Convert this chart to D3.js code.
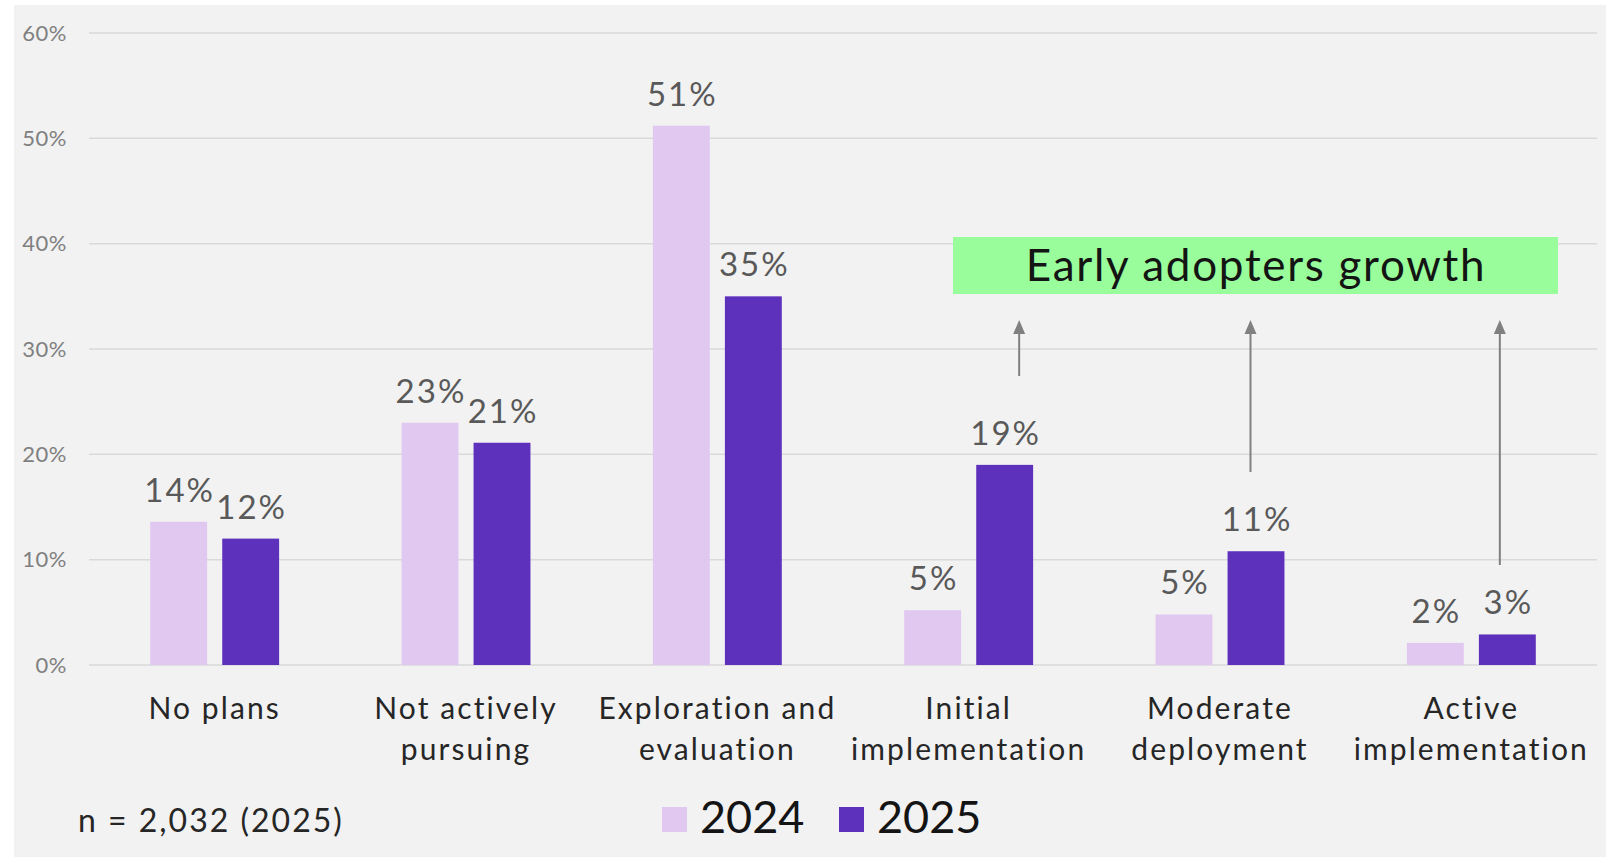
<!DOCTYPE html>
<html>
<head>
<meta charset="utf-8">
<script src="https://cdn.jsdelivr.net/npm/d3@7/dist/d3.min.js"></script>
<style>
  html, body { margin: 0; padding: 0; background: #ffffff; }
  svg { display: block; font-family: Lato, "Open Sans", sans-serif; }
</style>
</head>
<body>
<svg id="chart" width="1616" height="863"></svg>
<script>
// ---- data ----
const categories = ["No plans", "Not actively pursuing", "Exploration and evaluation",
                    "Initial implementation", "Moderate deployment", "Active implementation"];
const categoryLines = [["No plans"], ["Not actively", "pursuing"], ["Exploration and", "evaluation"],
                       ["Initial", "implementation"], ["Moderate", "deployment"], ["Active", "implementation"]];
const seriesNames = ["2024", "2025"];
const values2024 = [13.6, 23.0, 51.2, 5.2, 4.8, 2.1];
const values2025 = [12.0, 21.1, 35.0, 19.0, 10.8, 2.9];
const yTicks = [0, 10, 20, 30, 40, 50, 60];
const annotationText = "Early adopters growth";
const annotatedCategories = ["Initial implementation", "Moderate deployment", "Active implementation"];
const noteText = "n = 2,032 (2025)";

const colors = { "2024": "#e1c8f1", "2025": "#5e31bd" };
const seriesValues = { "2024": values2024, "2025": values2025 };

const svg = d3.select("#chart");

// panel background
svg.append("rect").attr("x", 14).attr("y", 5).attr("width", 1592).attr("height", 852).attr("fill", "#f2f2f2");

const x0 = d3.scaleBand().domain(categories).range([89, 1597]).paddingInner(0).paddingOuter(0);
const x1 = d3.scaleBand().domain(seriesNames).range([0, x0.bandwidth()]).paddingInner(0.21).paddingOuter(0.85);
const y = d3.scaleLinear().domain([0, 60]).range([665, 33]);

// gridlines
svg.append("g").selectAll("line").data(yTicks).join("line")
  .attr("x1", 89).attr("x2", 1597)
  .attr("y1", d => y(d)).attr("y2", d => y(d))
  .attr("stroke", "#d9d9d9").attr("stroke-width", 1.5);

// y axis labels
const yAxis = d3.axisLeft(y).tickValues(yTicks).tickFormat(d => d + "%").tickSize(0).tickPadding(0);
const gy = svg.append("g").attr("transform", "translate(67,0)").call(yAxis);
gy.select(".domain").remove();
gy.selectAll("text").attr("font-size", 22).attr("fill", "#808080")
  .attr("font-family", "Lato, sans-serif").attr("letter-spacing", "0.5px");

// bars
const rows = categories.map((c, i) => ({ cat: c, items: seriesNames.map(s => ({ s, v: seriesValues[s][i] })) }));
const groups = svg.append("g").selectAll("g").data(rows).join("g")
  .attr("transform", d => `translate(${x0(d.cat)},0)`);
groups.selectAll("rect").data(d => d.items).join("rect")
  .attr("x", d => x1(d.s)).attr("width", x1.bandwidth())
  .attr("y", d => y(d.v)).attr("height", d => y(0) - y(d.v))
  .attr("fill", d => colors[d.s]);
groups.selectAll("text").data(d => d.items).join("text")
  .attr("x", d => x1(d.s) + x1.bandwidth() / 2 + 1)
  .attr("y", d => y(d.v) - 20)
  .attr("text-anchor", "middle")
  .attr("font-size", 33).attr("fill", "#595959").attr("letter-spacing", "2px")
  .text(d => Math.round(d.v) + "%");

// category labels
const cl = svg.append("g").selectAll("text").data(categories).join("text")
  .attr("x", d => x0(d) + x0.bandwidth() / 2)
  .attr("y", 719)
  .attr("text-anchor", "middle")
  .attr("font-size", 30).attr("fill", "#262626").attr("letter-spacing", "2.1px");
cl.each(function(d, i) {
  const t = d3.select(this);
  categoryLines[i].forEach((line, j) => {
    t.append("tspan").attr("x", x0(d) + x0.bandwidth() / 2).attr("dy", j === 0 ? 0 : 41).text(line);
  });
});

// annotation box
svg.append("rect").attr("x", 953).attr("y", 237).attr("width", 605).attr("height", 57).attr("fill", "#98fd9a");
svg.append("text").attr("x", 1256).attr("y", 281).attr("text-anchor", "middle")
  .attr("font-size", 44).attr("fill", "#141414").attr("letter-spacing", "1.7px").text(annotationText);

// arrows
const arrowOffsets = [50.5, 30.5, 28.5];
const arrowBottoms = [376, 472, 565];
const arrowG = svg.append("g");
annotatedCategories.forEach((c, i) => {
  const ax = x0(c) + x0.bandwidth() / 2 + arrowOffsets[i];
  const tip = 320;
  arrowG.append("line").attr("x1", ax).attr("x2", ax).attr("y1", arrowBottoms[i]).attr("y2", tip + 10)
    .attr("stroke", "#808080").attr("stroke-width", 2);
  arrowG.append("path").attr("d", `M${ax},${tip} L${ax - 6},${tip + 14} L${ax + 6},${tip + 14} Z`).attr("fill", "#808080");
});

// legend
const legend = svg.append("g");
const legendX = [662, 839];
seriesNames.forEach((s, i) => {
  legend.append("rect").attr("x", legendX[i]).attr("y", 807).attr("width", 25).attr("height", 25).attr("fill", colors[s]);
  legend.append("text").attr("x", legendX[i] + 38).attr("y", 833).attr("font-size", 45).attr("fill", "#141414").text(s);
});

// note
svg.append("text").attr("x", 78).attr("y", 832).attr("font-size", 32).attr("fill", "#262626")
  .attr("letter-spacing", "2px").text(noteText);
</script>
</body>
</html>
